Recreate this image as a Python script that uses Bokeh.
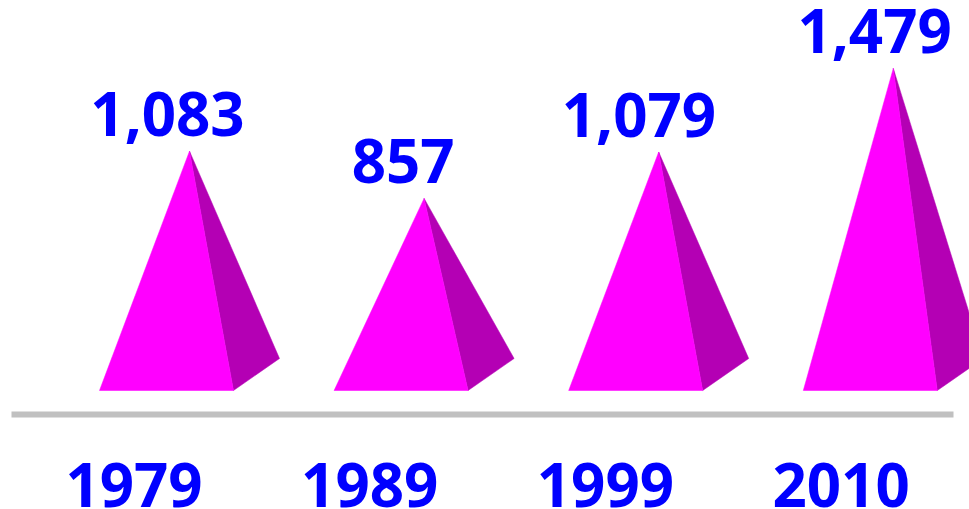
from bokeh.plotting import figure
from bokeh.models import Range1d, FixedTicker, LinearAxis
from bokeh.core.properties import value
from bokeh.embed import file_html
from bokeh.resources import INLINE

years = ["1979", "1989", "1999", "2010"]
counts = [1083, 857, 1079, 1479]
count_labels = ["1,083", "857", "1,079", "1,479"]

W, H = 969, 509
STEP = 234.6            # px between pyramids
LEFT0 = 99.0            # px of first pyramid's left base corner
PX_PER_UNIT = 0.209
TOP_VALUE = 377 / PX_PER_UNIT
BASE_VALUE = -13 / PX_PER_UNIT
AXIS_VALUE = -37 / PX_PER_UNIT
LABEL_STEP = 235.7

p = figure(width=W, height=H, output_backend="svg", toolbar_location=None,
           x_range=Range1d(-LEFT0 / STEP, (W - LEFT0) / STEP),
           y_range=Range1d((H - 377) / -PX_PER_UNIT, TOP_VALUE),
           min_border=0, outline_line_color=None, background_fill_color="white",
           border_fill_color="white", x_axis_type=None, y_axis_type=None)
p.styles = {"position": "absolute", "left": "0px", "top": "0px"}
p.grid.visible = False

depth_up = 32 / PX_PER_UNIT
for i, c in enumerate(counts):
    front_x = [i, i + 134 / STEP, i + 90 / STEP]
    front_y = [BASE_VALUE, BASE_VALUE, c]
    side_x = [i + 90 / STEP, i + 134 / STEP, i + 180 / STEP]
    side_y = [c, BASE_VALUE, BASE_VALUE + depth_up]
    p.patch(side_x, side_y, fill_color="#B400B4", line_color="#B400B4", line_width=0.5)
    p.patch(front_x, front_y, fill_color="#FF00FF", line_color="#FF00FF", line_width=0.5)

p.text(x=[(68 + i * LABEL_STEP) / STEP for i in range(len(counts))], y=counts, text=count_labels,
       text_font=value("Open Sans"), text_font_style="bold", text_font_size="60px",
       text_color="#0000FF", text_align="center", text_baseline="alphabetic", y_offset=-37)

axis = LinearAxis(fixed_location=AXIS_VALUE)
tick_pos = [(34.5 + i * LABEL_STEP) / STEP for i in range(len(years))]
axis.ticker = FixedTicker(ticks=tick_pos)
axis.major_label_overrides = dict(zip(tick_pos, years))
axis.bounds = ((11 - LEFT0) / STEP, (953 - LEFT0) / STEP)
axis.axis_line_color = "#C0C0C0"
axis.axis_line_width = 6
axis.major_tick_line_color = None
axis.minor_tick_line_color = None
axis.major_label_standoff = 42
axis.major_label_text_font = "Open Sans"
axis.major_label_text_font_style = "bold"
axis.major_label_text_font_size = "60px"
axis.major_label_text_color = "#0000FF"
p.add_layout(axis, "below")

open("out.html", "w").write(file_html(p, INLINE))
